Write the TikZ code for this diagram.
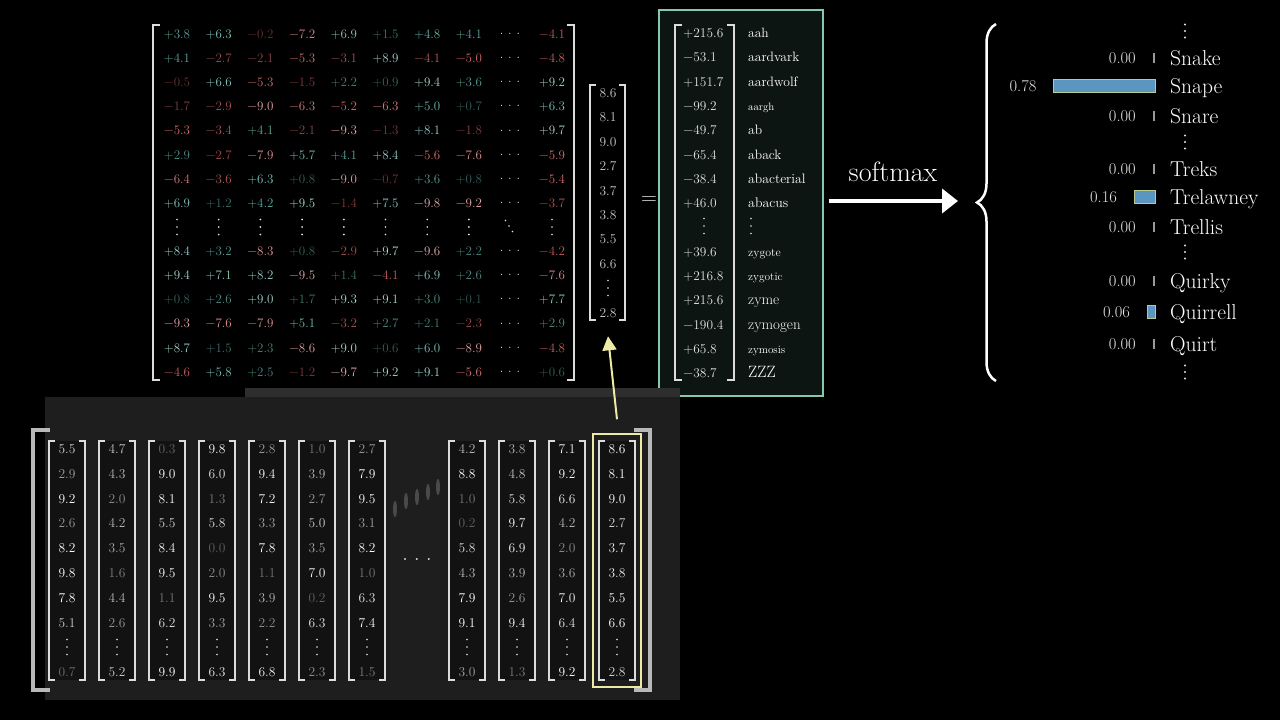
\documentclass[tikz,border=0pt]{standalone}
\usepackage{fontspec}
\usetikzlibrary{arrows.meta,calc,decorations.pathreplacing}
\definecolor{mxpos}{HTML}{68BAB0}
\definecolor{mxneg}{HTML}{D46666}
\definecolor{mxink}{HTML}{E4E4E4}
\definecolor{mxrule}{HTML}{DCDCDC}
\definecolor{logitfill}{HTML}{0C1512}
\definecolor{logitrule}{HTML}{84C9AB}
\definecolor{probbar}{HTML}{5A96BF}
\definecolor{probedge}{HTML}{B9CB8C}
\definecolor{panelgray}{HTML}{1E1E1E}
\definecolor{colgray}{HTML}{121212}
\definecolor{stripgray}{HTML}{2E2E2E}
\definecolor{blurgray}{HTML}{4A4A4A}
\definecolor{hilite}{HTML}{ECEBA6}
\def\mxstrip-#1\relax{#1}
\newcommand{\mxcolor}[1]{%
  \pgfmathtruncatemacro\mxisneg{(#1)<0}%
  \pgfmathsetmacro\mxmag{abs(#1)}%
  \ifnum\mxisneg=1 \colorlet{mxhue}{mxneg}\else\colorlet{mxhue}{mxpos}\fi
  \ifdim\mxmag pt<5pt
    \pgfmathtruncatemacro\mxpct{45+11*\mxmag}\colorlet{mxc}{mxhue!\mxpct!black}%
  \else
    \pgfmathtruncatemacro\mxpct{100-10*(\mxmag-5)}\colorlet{mxc}{mxhue!\mxpct!white}%
  \fi}
\newcommand{\mxtext}[1]{\ifnum\mxisneg=1 −\expandafter\mxstrip#1\relax\else+#1\fi}
\newcommand{\hdotsat}[1]{.\kern#1.\kern#1.}
\def\dotgap{7.5}
\def\dotr{0.95pt}

\begin{document}
\begin{tikzpicture}[x=1pt, y=-1pt, >=Latex,
  mxcell/.style={font=\fontsize{13}{15}\selectfont, inner sep=0pt, text height=9pt, text depth=0pt},
  dotcell/.style={font=\fontsize{13}{15}\selectfont, inner sep=0pt, text=mxink},
  pics/vdots/.style={code={\foreach \d in {-1,0,1} \fill[mxink] (0,\d*\dotgap) circle (\dotr);}},
  pics/ddots/.style={code={\foreach \d in {-1,0,1} \fill[mxink] (\d*3.5,\d*5.5) circle (\dotr);}},
  brk/.style={draw=mxrule, line width=1.6pt},
  vecval/.style={mxcell, font=\fontsize{13.5}{15}\selectfont, text=mxink!88!black},
  logitval/.style={inner sep=0pt, anchor=base west, text=mxink, font=\fontsize{13.4}{15}\selectfont},
  token/.style={inner sep=0pt, anchor=base west, text=white},
  prob/.style={inner sep=0pt, anchor=base east, text=mxink, font=\fontsize{16.5}{18}\selectfont},
  word/.style={inner sep=0pt, anchor=base west, text=white, font=\fontsize{21.5}{24}\selectfont},
  probtick/.style={draw=gray!80, line width=1.1pt},
  probrect/.style={fill=probbar, draw=probedge, line width=0.5pt},
  colval/.style={mxcell, font=\fontsize{13.5}{15}\selectfont},
  colbrk/.style={draw=mxrule, line width=1.4pt},
  bigbrk/.style={draw=black!28, line width=4.5pt},
  softarrow/.style={-{Triangle[length=16pt,width=24pt]}, line width=4pt, white},
  pickarrow/.style={-{Triangle[length=14pt,width=14pt]}, line width=2pt, hilite}]
  \useasboundingbox (0,0) rectangle (1280,720);
  \fill[black] (0,0) rectangle (1280,720);

  % weight matrix
  \foreach \mrow [count=\r from 0] in {
    {3.8,6.3,-0.2,-7.2,6.9,1.5,4.8,4.1,-4.1},
    {4.1,-2.7,-2.1,-5.3,-3.1,8.9,-4.1,-5.0,-4.8},
    {-0.5,6.6,-5.3,-1.5,2.2,0.9,9.4,3.6,9.2},
    {-1.7,-2.9,-9.0,-6.3,-5.2,-6.3,5.0,0.7,6.3},
    {-5.3,-3.4,4.1,-2.1,-9.3,-1.3,8.1,-1.8,9.7},
    {2.9,-2.7,-7.9,5.7,4.1,8.4,-5.6,-7.6,-5.9},
    {-6.4,-3.6,6.3,0.8,-9.0,-0.7,3.6,0.8,-5.4},
    {6.9,1.2,4.2,9.5,-1.4,7.5,-9.8,-9.2,-3.7},
    {8.4,3.2,-8.3,0.8,-2.9,9.7,-9.6,2.2,-4.2},
    {9.4,7.1,8.2,-9.5,1.4,-4.1,6.9,2.6,-7.6},
    {0.8,2.6,9.0,1.7,9.3,9.1,3.0,0.1,7.7},
    {-9.3,-7.6,-7.9,5.1,-3.2,2.7,2.1,-2.3,2.9},
    {8.7,1.5,2.3,-8.6,9.0,0.6,6.0,-8.9,-4.8},
    {-4.6,5.8,2.5,-1.2,-9.7,9.2,9.1,-5.6,0.6}} {
    \pgfmathtruncatemacro\ri{\r<8 ? \r : \r+1}
    \pgfmathsetmacro\my{34+24.12*\ri}
    \node[dotcell] (m-\ri-dots) at (510,\my) {\hdotsat{4.9pt}};
    \foreach \v [count=\c from 0] in \mrow {
      \pgfmathsetmacro\mx{\c<8 ? 177+41.7*\c : 552}
      \mxcolor{\v}
      \node[mxcell, text=mxc] (m-\ri-\c) at (\mx,\my) {\mxtext{\v}};
    }
  }
  \foreach \c in {0,...,8} {
    \pgfmathsetmacro\mx{\c<8 ? 177+41.7*\c : 552}
    \pic (m-8-\c) at (\mx,227) {vdots};
  }
  \pic (m-8-dots) at (509,226) {ddots};
  \draw[brk] (160,25) -- (153,25) -- (153,380) -- (160,380);
  \draw[brk] (567,25) -- (574,25) -- (574,380) -- (567,380);

  % embedding vector
  \foreach \v [count=\i from 0] in {8.6,8.1,9.0,2.7,3.7,3.8,5.5,6.6,2.8} {
    \pgfmathtruncatemacro\ii{\i<8 ? \i : 9}
    \node[vecval] (vec-\ii) at (608,93+24.4*\ii) {\v};
  }
  \pic (vec-8) at (608,288) {vdots};
  \draw[brk] (596,85) -- (590,85) -- (590,320) -- (596,320);
  \draw[brk] (619,85) -- (625,85) -- (625,320) -- (619,320);
  \node[font=\fontsize{22}{24}\selectfont, text=mxink, inner sep=0pt] (eq) at (649,201) {=};

  % logits
  \node[draw=logitrule, fill=logitfill, line width=1.2pt, minimum width=164pt, minimum height=386pt, inner sep=0pt] (logits) at (741,203) {};
  \foreach \val/\tok/\fs [count=\i from 0] in {+215.6/aah/13.5, −53.1/aardvark/13.6, +151.7/aardwolf/13.6,
      −99.2/aargh/10.7, −49.7/ab/13.6, −65.4/aback/13.6, −38.4/abacterial/13.7, +46.0/abacus/13.9,
      +39.6/zygote/11.9, +216.8/zygotic/11.4, +215.6/zyme/15, −190.4/zymogen/15, +65.8/zymosis/11.2, −38.7/ZZZ/16.4} {
    \pgfmathtruncatemacro\ii{\i<8 ? \i : \i+1}
    \pgfmathsetmacro\my{33+24.3*\ii}
    \node[logitval] (lv-\ii) at (683,\my+4.6) {\val};
    \node[token, font=\fontsize{\fs}{\fs}\selectfont] (tok-\ii) at (748,\my+4.6) {\tok};
  }
  \pic (lv-8) at (704,226) {vdots};
  \pic (tok-8) at (751,226) {vdots};
  \draw[brk] (682,25) -- (675,25) -- (675,380) -- (682,380);
  \draw[brk] (727,25) -- (734,25) -- (734,380) -- (727,380);

  % softmax
  \coordinate (softend) at (958,201);
  \draw[softarrow] ($(softend -| logits.east)+(5,0)$) -- (softend);
  \node[font=\fontsize{28}{30}\selectfont, text=white, inner sep=0pt] (smax) at (893,172) {softmax};
  \draw[decorate, decoration={brace, amplitude=19pt}, line width=2.5pt, white] (996,381) -- (996,24);

  % probabilities
  \foreach \w/\y/\p in {Snake/58/0.00, Snape/86/0.78, Snare/116/0.00, Treks/169/0.00, Trelawney/197/0.16,
      Trellis/227/0.00, Quirky/281/0.00, Quirrell/312/0.06, Quirt/344/0.00} {
    \node[word] (w-\w) at (1170,\y+7.5) {\w};
    \pgfmathsetmacro\bw{max(\p*130,2)}
    \ifdim\p pt>0pt
      \draw[probrect] (1155-\bw,\y-6.5) rectangle (1155,\y+6.5);
    \else
      \draw[probtick] (1154,\y-5) -- (1154,\y+5);
    \fi
    \node[prob] (p-\w) at (1138-\bw,\y+5.5) {\p};
  }
  \foreach \y [count=\i] in {31,142,252,372} {
    \def\dotgap{6.5}\def\dotr{1.1pt}
    \pic (pv-\i) at (1185,\y) {vdots};
  }

  % hidden states
  \fill[panelgray] (45,397) rectangle (680,700);
  \fill[stripgray] (245,388) rectangle (680,397);
  \foreach \bx/\by in {395/509, 406/501, 417/497, 428/492, 438/487}
    \fill[blurgray] (\bx,\by) ellipse (2pt and 8pt);
  \foreach \colv [count=\k from 0] in {
    {5.5,2.9,9.2,2.6,8.2,9.8,7.8,5.1,0.7},
    {4.7,4.3,2.0,4.2,3.5,1.6,4.4,2.6,5.2},
    {0.3,9.0,8.1,5.5,8.4,9.5,1.1,6.2,9.9},
    {9.8,6.0,1.3,5.8,0.0,2.0,9.5,3.3,6.3},
    {2.8,9.4,7.2,3.3,7.8,1.1,3.9,2.2,6.8},
    {1.0,3.9,2.7,5.0,3.5,7.0,0.2,6.3,2.3},
    {2.7,7.9,9.5,3.1,8.2,1.0,6.3,7.4,1.5},
    {4.2,8.8,1.0,0.2,5.8,4.3,7.9,9.1,3.0},
    {3.8,4.8,5.8,9.7,6.9,3.9,2.6,9.4,1.3},
    {7.1,9.2,6.6,4.2,2.0,3.6,7.0,6.4,9.2},
    {8.6,8.1,9.0,2.7,3.7,3.8,5.5,6.6,2.8}} {
    \pgfmathsetmacro\cx{\k<7 ? 67+50*\k : 117+50*\k}
    \fill[colgray] (\cx-18,441) rectangle (\cx+18,680);
    \draw[colbrk] (\cx-12,441) -- (\cx-18,441) -- (\cx-18,680) -- (\cx-12,680);
    \draw[colbrk] (\cx+12,441) -- (\cx+18,441) -- (\cx+18,680) -- (\cx+12,680);
    \pic (c-\k-8) at (\cx,647) {vdots};
    \foreach \v [count=\i from 0] in \colv {
      \pgfmathtruncatemacro\ii{\i<8 ? \i : 9}
      \pgfmathtruncatemacro\gp{min(100, 33+9*\v + (\k==10)*25)}
      \node[colval, text=white!\gp!colgray] (c-\k-\ii) at (\cx,449+24.8*\ii) {\v};
    }
  }
  \node[dotcell, font=\fontsize{24}{26}\selectfont] (gap) at (417,560) {\hdotsat{5.8pt}};
  \draw[bigbrk] (50,430) -- (33,430) -- (33,690) -- (50,690);
  \draw[bigbrk] (634,430) -- (650,430) -- (650,690) -- (634,690);
  \node[draw=hilite, line width=1.5pt, minimum width=48pt, minimum height=253pt, inner sep=0pt] (hl) at (617,560.5) {};
  \draw[pickarrow] ([yshift=14pt]hl.north) -- ([yshift=-19pt]vec-9.south);
\end{tikzpicture}
\end{document}
